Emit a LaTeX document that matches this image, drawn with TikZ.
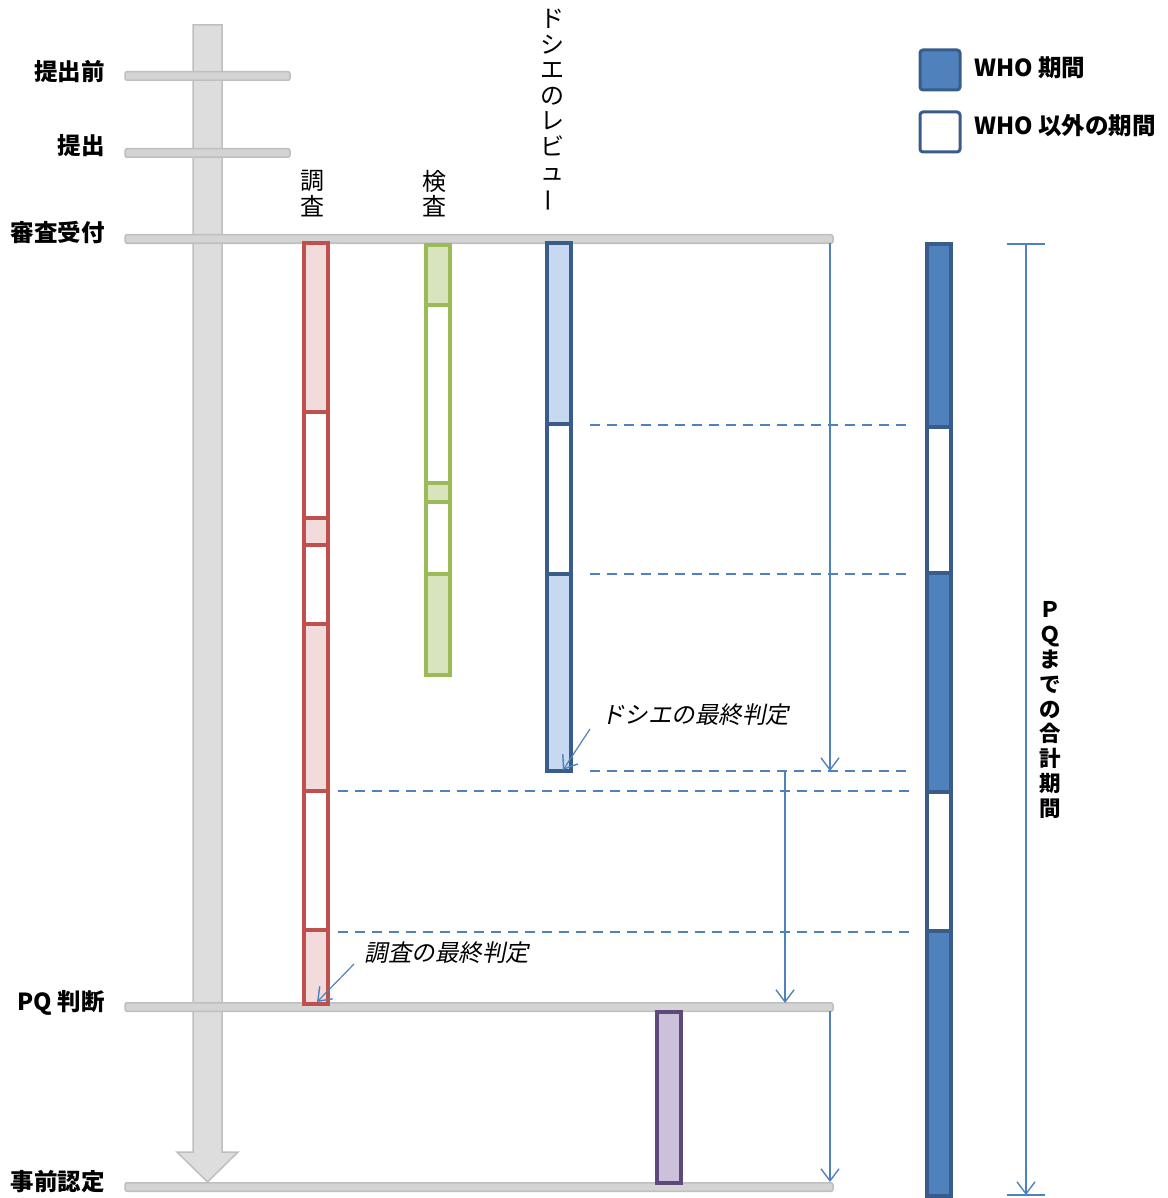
\documentclass[tikz,border=0pt]{standalone}
\usepackage{fontspec}
\setmainfont{Noto Sans CJK JP}
\newfontfamily\jpit[FakeSlant=0.2]{Noto Sans CJK JP}
\usetikzlibrary{arrows.meta}
\definecolor{redS}{HTML}{C0504D}\definecolor{redF}{HTML}{F2DCDB}
\definecolor{grnS}{HTML}{9BBB59}\definecolor{grnF}{HTML}{D7E4BD}
\definecolor{bluS}{HTML}{385D8A}\definecolor{bluF}{HTML}{C6D9F1}
\definecolor{whoB}{HTML}{4F81BD}
\definecolor{purS}{HTML}{5F497A}\definecolor{purF}{HTML}{CCC1DA}
\definecolor{grayF}{HTML}{D4D4D4}\definecolor{grayS}{HTML}{BFBFBF}
\begin{document}
\begin{tikzpicture}[x=1pt,y=-1pt,
  seg/.style={draw, line width=4pt, inner sep=0pt, minimum width=24pt},
  rseg/.style={seg, draw=redS},
  gseg/.style={seg, draw=grnS},
  bseg/.style={seg, draw=bluS},
  wseg/.style={seg, draw=bluS, line width=3.5pt},
  hbar/.style={draw=grayS, fill=grayF, line width=1.5pt, rounded corners=2pt, inner sep=0pt, minimum height=8.5pt},
  lab/.style={anchor=east, font=\bfseries\fontsize{23.5}{25}\selectfont, inner sep=0pt},
  head/.style={align=center, inner sep=0pt, font=\fontsize{24}{25.5}\selectfont},
  thinarr/.style={draw=whoB, line width=1.4pt, -{Straight Barb[length=12pt,width=18pt,line width=1.4pt]}},
  dashln/.style={draw=whoB, line width=1.6pt, dash pattern=on 10pt off 7pt},
  note/.style={font=\jpit\fontsize{23.5}{25}\selectfont, inner sep=0pt},
  legbox/.style={draw=bluS, line width=3pt, rounded corners=3pt, minimum size=40pt, inner sep=0pt},
  legtxt/.style={anchor=west, font=\bfseries\fontsize{23.5}{25}\selectfont, inner sep=0pt}
]
\useasboundingbox (0,0) rectangle (1167,1198);
% big timeline arrow
\draw[draw=grayS, fill=grayF!80!white, line width=1.5pt]
  (193,25) -- (222,25) -- (222,1152) -- (238,1152) -- (207.5,1182) -- (177,1152) -- (193,1152) -- cycle;
% horizontal bars
\node[hbar, minimum width=165pt] (b0) at (207.5,76) {};
\node[hbar, minimum width=165pt] (b1) at (207.5,153) {};
\node[hbar, minimum width=708pt] (b2) at (479,239) {};
\node[hbar, minimum width=708pt] (b3) at (479,1007) {};
\node[hbar, minimum width=708pt] (b4) at (479,1187) {};
% left labels
\node[lab] (l0) at (105,72) {提出前};
\node[lab] (l1) at (105,146) {提出};
\node[lab] (l2) at (105,233) {審査受付};
\node[lab] (l3) at (105,1003) {PQ 判断};
\node[lab] (l4) at (105,1182) {事前認定};
% column headers
\node[head] (h1) at (312,193.5) {調\\査};
\node[head] (h2) at (434,193.5) {検\\査};
\node[head] (h3) at (552,111) {ド\\シ\\エ\\の\\レ\\ビ\\ュ\\\rotatebox[origin=c]{90}{ー}};
% red column
\node[rseg, fill=redF,  minimum height=169pt] (r1) at (315.5,327.5) {};
\node[rseg, fill=white, minimum height=106pt] (r2) at (315.5,465) {};
\node[rseg, fill=redF,  minimum height=27pt]  (r3) at (315.5,531.5) {};
\node[rseg, fill=white, minimum height=79pt]  (r4) at (315.5,584.5) {};
\node[rseg, fill=redF,  minimum height=167pt] (r5) at (315.5,707.5) {};
\node[rseg, fill=white, minimum height=139pt] (r6) at (315.5,860.5) {};
\node[rseg, fill=redF,  minimum height=74pt]  (r7) at (315.5,967) {};
% green column
\node[gseg, fill=grnF,  minimum height=60pt]  (g1) at (438,275) {};
\node[gseg, fill=white, minimum height=178pt] (g2) at (438,394) {};
\node[gseg, fill=grnF,  minimum height=19pt]  (g3) at (438,492.5) {};
\node[gseg, fill=white, minimum height=72pt]  (g4) at (438,538) {};
\node[gseg, fill=grnF,  minimum height=101pt] (g5) at (438,624.5) {};
% blue column
\node[bseg, fill=bluF,  minimum height=181pt] (d1) at (559,333.5) {};
\node[bseg, fill=white, minimum height=150pt] (d2) at (559,499) {};
\node[bseg, fill=bluF,  minimum height=197pt] (d3) at (559,672.5) {};
% purple column
\node[seg, draw=purS, fill=purF, minimum height=171pt] (p1) at (668.5,1097.5) {};
% right WHO bar
\node[wseg, fill=whoB,  minimum height=183pt] (w1) at (939,335.5) {};
\node[wseg, fill=white, minimum height=146pt] (w2) at (939,500) {};
\node[wseg, fill=whoB,  minimum height=219pt] (w3) at (939,682.5) {};
\node[wseg, fill=white, minimum height=139pt] (w4) at (939,861.5) {};
\node[wseg, fill=whoB,  minimum height=265pt] (w5) at (939,1063.5) {};
% dashed guide lines
\coordinate (ds1) at (590,425); \coordinate (de1) at (912,425);
\coordinate (ds2) at (590,574); \coordinate (de2) at (912,574);
\coordinate (ds3) at (590,771); \coordinate (de3) at (912,771);
\coordinate (ds4) at (338,791); \coordinate (de4) at (912,791);
\coordinate (ds5) at (338,932); \coordinate (de5) at (912,932);
\foreach \i in {1,...,5} {\draw[dashln] (ds\i) -- (de\i);}
% thin arrows
\coordinate (a1s) at (830,243); \coordinate (a1e) at (830,771);
\coordinate (a2s) at (785,771); \coordinate (a2e) at (785,1003);
\coordinate (a3s) at (830,1011); \coordinate (a3e) at (830,1182);
\draw[thinarr] (a1s) -- (a1e);
\draw[thinarr] (a2s) -- (a2e);
\draw[thinarr] (a3s) -- (a3e);
% annotations
\node[note] (n1) at (695,715) {ドシエの最終判定};
\node[note] (n2) at (447,953) {調査の最終判定};
\coordinate (n1a) at (590,729); \coordinate (n1b) at (563,770);
\coordinate (n2a) at (354,964); \coordinate (n2b) at (317,1002);
\draw[thinarr, line width=1.2pt] (n1a) -- (n1b);
\draw[thinarr, line width=1.2pt] (n2a) -- (n2b);
% total-period dimension
\coordinate (dt) at (1026,244); \coordinate (db) at (1026,1195);
\coordinate (dtl) at (1007,244); \coordinate (dtr) at (1045,244);
\coordinate (dbl) at (1007,1195); \coordinate (dbr) at (1045,1195);
\draw[draw=whoB, line width=2pt] (dtl) -- (dtr);
\draw[draw=whoB, line width=2pt] (dbl) -- (dbr);
\draw[thinarr, line width=2pt] (dt) -- (db);
\node[align=center, inner sep=0pt, font=\bfseries\fontsize{21.5}{24.8}\selectfont] (tot) at (1050,710) {Ｐ\\Ｑ\\ま\\で\\の\\合\\計\\期\\間};
% legend
\node[legbox, fill=whoB]  (lg1) at (940,70) {};
\node[legbox, fill=white] (lg2) at (940,132) {};
\node[legtxt] (lt1) at (974,68) {WHO 期間};
\node[legtxt] (lt2) at (974,126) {WHO 以外の期間};
\end{tikzpicture}
\end{document}
